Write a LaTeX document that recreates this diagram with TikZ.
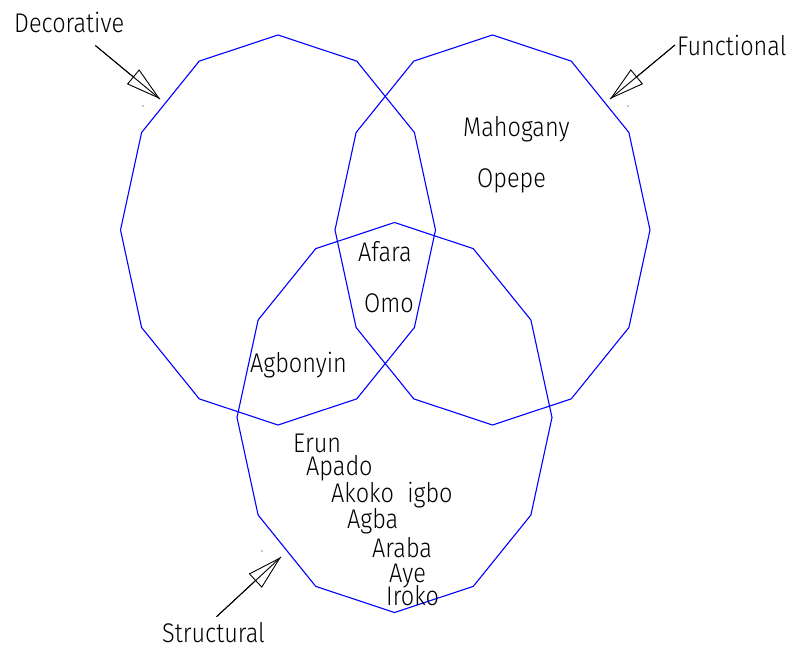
\documentclass[tikz,border=0pt]{standalone}
\usepackage{fontspec}
\setmainfont{Fira Sans Light}[FakeStretch=0.87]
\usepackage{tikz}
\usetikzlibrary{arrows.meta, calc}
\definecolor{setblue}{RGB}{0,0,255}
\tikzset{
  setline/.style={draw=setblue, line width=1.1pt},
  tag/.style={anchor=base west, inner sep=0pt, font=\fontsize{27}{30}\selectfont},
  timber/.style={anchor=base west, inner sep=0pt, font=\fontsize{27}{30}\selectfont},
  pointer/.style={-{Triangle[open, length=35pt, width=19pt, line width=0.9pt]}, line width=0.9pt,
    postaction={draw, -}}
}
\newcommand{\wset}[3]{%
  \draw[setline] plot[samples=13, domain=0:360] ({#1+157.5*cos(\x)}, {#2+195*sin(\x)}) -- cycle;
  \coordinate (#3) at (#1,#2);
}

\begin{document}
\begin{tikzpicture}[x=1pt, y=-1pt]
        \useasboundingbox (0,0) rectangle (789,647);

        % Sets
        \wset{278}{230}{decoset}
        \wset{492.5}{230}{funcset}
        \wset{394.5}{417.5}{strucset}

        % Set labels
        \node[tag] (decor) at (14,33)  {Decorative};
        \node[tag] (func)  at (677,56) {Functional};
        \node[tag] (struc) at (162,642) {Structural};

        \coordinate (decotip)  at (160,99);
        \coordinate (functip)  at (610,99);
        \coordinate (structip) at (281,557);

        % Pointers
        \draw[pointer] ($(decor.south east)+(-29,12)$) -- (decotip);
        \draw[pointer] ($(func.west)+(-2,-1)$) -- (functip);
        \draw[pointer] ($(struc.north)+(3,-5)$) -- (structip);

        \fill (143,106) circle (0.7);
        \fill (628,106) circle (0.7);
        \fill (262,551) circle (0.7);

        % Timbers
        \node[timber] (mahogany) at (463,137) {Mahogany};
        \node[timber] (opepe)    at (477,188) {Opepe};
        \node[timber] (afara)    at (358,261) {Afara};
        \node[timber] (omo)      at (364,312) {Omo};
        \node[timber] (agbonyin) at (250,372) {Agbonyin};
        \node[timber] (erun)     at (293,452) {Erun};
        \node[timber] (apado)    at (306,475) {Apado};
        \node[timber] (akoko)    at (331,502) {Akoko\hspace{0.5em}igbo};
        \node[timber] (agba)     at (347,528) {Agba};
        \node[timber] (araba)    at (372,557) {Araba};
        \node[timber] (aye)      at (389,582) {Aye};
        \node[timber] (iroko)    at (386,605) {Iroko};
    \end{tikzpicture}
\end{document}
